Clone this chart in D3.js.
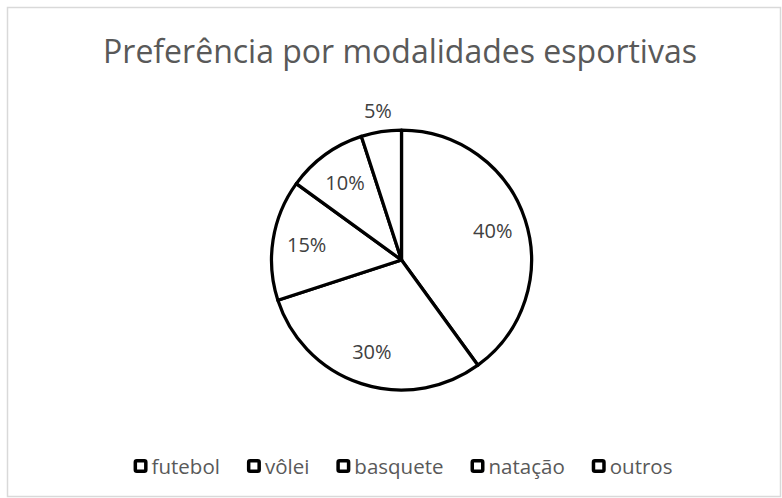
<!DOCTYPE html>
<html>
<head>
<meta charset="utf-8">
<script src="https://cdn.jsdelivr.net/npm/d3@7"></script>
<style>
  body { margin: 0; background: #fff; }
  text { font-family: "Open Sans", "Noto Sans", sans-serif; }
</style>
</head>
<body>
<svg></svg>
<script>
const categories = ["futebol", "vôlei", "basquete", "natação", "outros"];
const values = [40, 30, 15, 10, 5];
const title = "Preferência por modalidades esportivas";

let width = 782, height = 498;
let svg = d3.select("svg")
    .attr("width", width)
    .attr("height", height);

// chart frame
svg.append("rect")
    .attr("x", 7.5).attr("y", 7.5)
    .attr("width", 773).attr("height", 489)
    .attr("fill", "#fff")
    .attr("stroke", "#d9d9d9")
    .attr("stroke-width", 1.5);

svg.append("text")
    .attr("x", 400).attr("y", 63)
    .attr("text-anchor", "middle")
    .attr("font-size", 32)
    .attr("fill", "#595959")
    .text(title);

const cx = 401.5, cy = 260, radius = 130;

const pieData = d3.pie().sort(null)(values);
const arc = d3.arc().innerRadius(0).outerRadius(radius);

const pieG = svg.append("g")
    .attr("transform", "translate(" + cx + "," + cy + ")");

pieG.selectAll("path")
    .data(pieData)
    .enter().append("path")
    .attr("d", arc)
    .attr("fill", "#fff")
    .attr("stroke", "#000")
    .attr("stroke-width", 3.25)
    .attr("stroke-linejoin", "round");

// labels inside the slices, the tiny slice gets its label outside
const inArc = d3.arc().innerRadius(96).outerRadius(96);
const outArc = d3.arc().innerRadius(151).outerRadius(151);
const total = d3.sum(values);

pieG.selectAll("text")
    .data(pieData)
    .enter().append("text")
    .attr("transform", d => {
        let a = d.data / total < 0.07 ? outArc : inArc;
        return "translate(" + a.centroid(d) + ")";
    })
    .attr("text-anchor", "middle")
    .attr("dominant-baseline", "central")
    .attr("font-size", 20)
    .attr("fill", "#404040")
    .text(d => d.data + "%");

// legend, laid out from measured text widths and centred
const markerW = 18, gap = 27, legendY = 466;
const legend = svg.append("g");
const items = legend.selectAll("g")
    .data(categories)
    .enter().append("g");

items.append("rect")
    .attr("x", 1.75).attr("y", -5.25)
    .attr("width", 10.5).attr("height", 10.5)
    .attr("rx", 1.5)
    .attr("fill", "#fff")
    .attr("stroke", "#000")
    .attr("stroke-width", 3.5);

items.append("text")
    .attr("x", markerW)
    .attr("y", 0)
    .attr("dominant-baseline", "central")
    .attr("font-size", 20.5)
    .attr("fill", "#595959")
    .text(d => d);

let widths = [];
items.selectAll("text").each(function() { widths.push(this.getComputedTextLength()); });
let totalW = d3.sum(widths) + categories.length * markerW + (categories.length - 1) * gap;
let pos = 403 - totalW / 2;
items.attr("transform", (d, i) => {
    let x = pos;
    pos += markerW + widths[i] + gap;
    return "translate(" + x + "," + legendY + ")";
});
</script>
</body>
</html>
